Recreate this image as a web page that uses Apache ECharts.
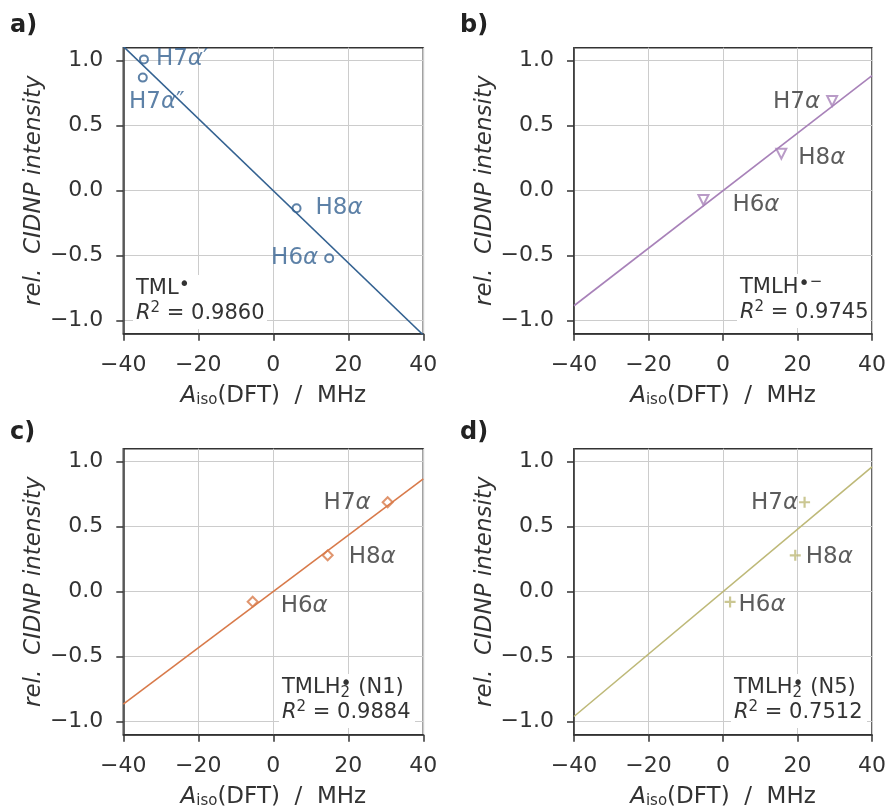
<!DOCTYPE html>
<html>
<head>
<meta charset="utf-8">
<script src="https://cdn.jsdelivr.net/npm/echarts@6/dist/echarts.min.js"></script>
<style>html,body{margin:0;padding:0;background:#fff}#c{width:889px;height:812px}</style>
</head>
<body>
<div id="c"></div>
<script>
// ---- data ----
const xTicks = [-40, -20, 0, 20, 40];
const yTicks = [-1.0, -0.5, 0.0, 0.5, 1.0];

const aX = [-34.5, -34.8, 6.2, 14.9];
const aY = [1.01, 0.87, -0.135, -0.52];
const aNames = ["H7{g|α}′", "H7{g|α}″", "H8{g|α}", "H6{g|α}"];
const aFit = [1.11, -1.11];      // fit line at x = -40, 40

const bX = [29.3, 15.65, -5.25];
const bY = [0.69, 0.285, -0.072];
const bNames = ["H7{g|α}", "H8{g|α}", "H6{g|α}"];
const bFit = [-0.885, 0.885];

const cX = [30.5, 14.5, -5.5];
const cY = [0.688, 0.28, -0.077];
const cNames = ["H7{g|α}", "H8{g|α}", "H6{g|α}"];
const cFit = [-0.865, 0.868];

const dX = [21.9, 19.4, 1.9];
const dY = [0.688, 0.28, -0.079];
const dNames = ["H7{g|α}", "H8{g|α}", "H6{g|α}"];
const dFit = [-0.96, 0.96];

const r2 = ["0.9860", "0.9745", "0.9884", "0.7512"];
// --------------

const FONT = 'DejaVu Sans';
const TXT = '#333333';
const chart = echarts.init(document.getElementById('c'), null, {renderer: 'canvas'});

const grids = [
  {left: 123.3, top: 47.7, width: 300, height: 286},
  {left: 574, top: 47.7, width: 300, height: 286},
  {left: 123.3, top: 448.7, width: 300, height: 286},
  {left: 574, top: 448.7, width: 300, height: 286}
];
const colors = ['#346291', '#a882b9', '#d87a4a', '#beb978'];
const plusPath = 'path://M4,0 L6,0 L6,4 L10,4 L10,6 L6,6 L6,10 L4,10 L4,6 L0,6 L0,4 L4,4 Z';
const symbols = ['circle', 'triangle', 'diamond', plusPath];
const symSizes = [8, 10, 10, 11];
const symRot = [0, 180, 0, 0];

// label placement per point: [position, distance, offsetX, offsetY]
const labelPlace = [
  [['right', 7, 0, 0], ['inside', 0, 14, 24], ['right', 14, 0, 0], ['left', 6, 0, 0]],
  [['left', 6, 0, 1], ['right', 11, 0, 4], ['right', 23, 0, 5]],
  [['left', 11, 0, 1], ['right', 15, 0, 2], ['right', 22, 0, 4]],
  [['left', 1, 0, 1], ['right', 5, 0, 2], ['right', 3, 0, 3]]
];

const sets = [[aX, aY, aNames, aFit], [bX, bY, bNames, bFit], [cX, cY, cNames, cFit], [dX, dY, dNames, dFit]];

const fmtMinus = (v, dec) => {
  const s = Math.abs(v).toFixed(dec);
  return (v < 0 ? '−' : '') + s;
};

const xAxes = [], yAxes = [], series = [];
grids.forEach((g, i) => {
  xAxes.push({
    gridIndex: i, type: 'value', min: -40, max: 40, interval: 20,
    axisLine: {show: true, onZero: false, lineStyle: {color: TXT, width: 1.5}},
    axisTick: {show: true, inside: false, length: 7, lineStyle: {color: TXT, width: 1.5}},
    axisLabel: {color: TXT, fontFamily: FONT, fontSize: 22, margin: 21, formatter: v => fmtMinus(v, 0)},
    splitLine: {show: true, lineStyle: {color: '#cccccc', width: 1}},
    name: '{a|A}{s|iso}(DFT)  /  MHz', nameLocation: 'middle', nameGap: 50,
    nameTextStyle: {color: TXT, fontFamily: FONT, fontSize: 23,
      rich: {a: {fontStyle: 'italic', fontSize: 23, fontFamily: FONT, color: TXT},
             s: {fontSize: 15, fontFamily: FONT, color: TXT, verticalAlign: 'bottom', padding: [9, 0, 0, 0]}}}
  });
  yAxes.push({
    gridIndex: i, type: 'value', min: -1.1, max: 1.1,
    axisLine: {show: true, onZero: false, lineStyle: {color: TXT, width: 1.5}},
    axisTick: {show: true, inside: false, length: 7, customValues: yTicks, lineStyle: {color: TXT, width: 1.5}},
    axisLabel: {color: TXT, fontFamily: FONT, fontSize: 22, margin: 20, customValues: yTicks, formatter: v => fmtMinus(v, 1)},
    splitLine: {show: true, lineStyle: {color: '#cccccc', width: 1}},
    name: 'rel.  CIDNP intensity', nameLocation: 'middle', nameGap: 74, nameRotate: 90,
    nameTextStyle: {color: TXT, fontFamily: FONT, fontSize: 23, fontStyle: 'italic'}
  });
  const [xs, ys, names, fit] = sets[i];
  series.push({
    type: 'line', xAxisIndex: i, yAxisIndex: i, showSymbol: false, silent: true, z: 2,
    lineStyle: {color: colors[i], width: 1.6},
    data: [[xTicks[0], fit[0]], [xTicks[xTicks.length - 1], fit[1]]]
  });
  series.push({
    type: 'scatter', xAxisIndex: i, yAxisIndex: i, z: 3,
    symbol: symbols[i], symbolSize: symSizes[i], symbolRotate: symRot[i],
    itemStyle: i === 3 ? {color: colors[i]} : {color: 'rgba(255,255,255,0)', borderColor: colors[i], borderWidth: 2},
    data: xs.map((x, k) => {
      const p = labelPlace[i][k];
      return {
        value: [x, ys[k]],
        label: {
          show: true, position: p[0], distance: p[1], offset: [p[2], p[3]],
          formatter: names[k],
          color: i === 0 ? colors[0] : TXT, fontFamily: FONT, fontSize: 23,
          rich: {g: {fontStyle: 'italic', fontFamily: FONT, fontSize: 23, color: i === 0 ? colors[0] : TXT}}
        }
      };
    })
  });
});

// annotation boxes
const baseRich = {
  n: {fontFamily: FONT, fontSize: 21, fill: TXT, lineHeight: 26},
  it: {fontFamily: FONT, fontSize: 21, fontStyle: 'italic', fill: TXT, lineHeight: 26},
  sup: {fontFamily: FONT, fontSize: 15, fill: TXT, verticalAlign: 'top', lineHeight: 17},
  bul: {fontFamily: FONT, fontSize: 19, fill: TXT, verticalAlign: 'top', lineHeight: 14},
  sub: {fontFamily: FONT, fontSize: 15, fill: TXT, verticalAlign: 'bottom', lineHeight: 15, width: 0}
};
const boxes = [
  {x: 133, y: 275, w: 134, h: 54, l1: '{n|TML}{bul|•}'},
  {x: 737, y: 274, w: 133, h: 54, l1: '{n|TMLH}{bul|•}{sup|−}'},
  {x: 279, y: 674, w: 136, h: 54, l1: '{n|TMLH}{sub|2}{bul|•}{n| (N1)}'},
  {x: 731, y: 674, w: 136, h: 54, l1: '{n|TMLH}{sub|2}{bul|•}{n| (N5)}'}
];
const graphics = [];
boxes.forEach((b, i) => {
  graphics.push({type: 'rect', left: b.x, top: b.y, shape: {width: b.w, height: b.h}, style: {fill: '#fff'}, z: 10});
  graphics.push({type: 'text', left: b.x + 3, top: b.y + 1, z: 11,
    style: {text: b.l1, rich: baseRich, font: '21px ' + FONT, fill: TXT}});
  graphics.push({type: 'text', left: b.x + 3, top: b.y + 26, z: 11,
    style: {text: '{it|R}{sup|2}{n| = ' + r2[i] + '}', rich: baseRich, font: '21px ' + FONT, fill: TXT}});
});
const letters = [['a)', 10, 14], ['b)', 460, 14], ['c)', 10, 421], ['d)', 460, 421]];
letters.forEach(l => graphics.push({type: 'text', left: l[1], top: l[2], z: 11,
  style: {text: l[0], font: 'bold 24px ' + FONT, fill: '#222'}}));

chart.setOption({
  animation: false,
  backgroundColor: '#fff',
  grid: grids.map(g => Object.assign({show: true, borderColor: TXT, borderWidth: 1.5, backgroundColor: 'transparent'}, g)),
  xAxis: xAxes, yAxis: yAxes, series: series, graphic: graphics
});
</script>
</body>
</html>
